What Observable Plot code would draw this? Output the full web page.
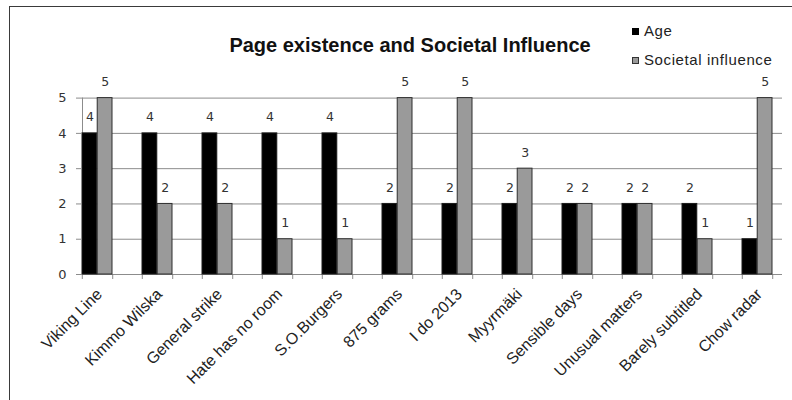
<!DOCTYPE html>
<html>
<head>
<meta charset="utf-8">
<script src="https://cdn.jsdelivr.net/npm/d3@7"></script>
<script src="https://cdn.jsdelivr.net/npm/@observablehq/plot@0.6"></script>
<style>
  html, body { margin: 0; padding: 0; background: #fff; }
  #page { position: relative; width: 792px; height: 400px; overflow: hidden; background: #fff; }
  #border { position: absolute; left: 9px; top: 6px; width: 820px; height: 440px;
            border: 1.5px solid #3a3a3a; box-sizing: border-box; }
  #chart { position: absolute; left: 0; top: 0; }
  #title { position: absolute; left: 410px; top: 35px; transform: translateX(-50%);
           font: bold 20px/20px "Liberation Sans", Arial, sans-serif; color: #111; white-space: nowrap; }
  .legend-item { position: absolute; left: 632px; font: 15px/15px "Liberation Sans", Arial, sans-serif;
                 color: #222; letter-spacing: 0.6px; white-space: nowrap; }
  .swatch { display: inline-block; width: 7px; height: 7px; margin-right: 5px; vertical-align: 1px;
            box-sizing: border-box; }
</style>
</head>
<body>
<div id="page">
  <div id="border"></div>
  <div id="chart"></div>
  <div id="title">Page existence and Societal Influence</div>
  <div id="legend"></div>
</div>
<script>
// Pages and their scores
const categories = ["Viking Line", "Kimmo Wilska", "General strike", "Hate has no room", "S.O.Burgers",
  "875 grams", "I do 2013", "Myyrmäki", "Sensible days", "Unusual matters", "Barely subtitled", "Chow radar"];
const ageValues = [4, 4, 4, 4, 4, 2, 2, 2, 2, 2, 2, 1];
const influenceValues = [5, 2, 2, 1, 1, 5, 5, 3, 2, 2, 1, 5];
const seriesNames = ["Age", "Societal influence"];
const yTicks = [0, 1, 2, 3, 4, 5];

const rows = categories.map((category, i) => ({category, age: ageValues[i], influence: influenceValues[i]}));

const width = 792, height = 400;
const marginLeft = 82, marginRight = 10, marginTop = 97.6, marginBottom = 126;
// band geometry: each category band holds the two bars, with an equal gap after it
const paddingInner = 0.5;
const step = (width - marginLeft - marginRight) / (categories.length - paddingInner);
const barWidth = step * (1 - paddingInner) / 2;

const gridColor = "#8c8c8c";
const ageFill = "#000000";
const influenceFill = "#9a9a9a";

const chart = Plot.plot({
  width, height, marginLeft, marginRight, marginTop, marginBottom,
  style: {background: "transparent", overflow: "visible"},
  x: {type: "band", domain: categories, paddingInner, paddingOuter: 0, align: 0},
  y: {domain: [0, 5]},
  marks: [
    Plot.ruleY(yTicks, {stroke: gridColor, strokeWidth: 1}),
    Plot.frame({anchor: "left", stroke: gridColor}),
    // slot boundaries along the category axis
    Plot.ruleX(rows, {x: "category", y1: d => 0, y2: d => 0, insetBottom: -5, dx: -barWidth, stroke: gridColor}),
    Plot.ruleX(rows, {x: "category", y1: d => 0, y2: d => 0, insetBottom: -5, dx: barWidth, stroke: gridColor}),
    Plot.barY(rows, {x: "category", y: "age", fill: ageFill, stroke: "#1a1a1a", strokeWidth: 1,
      insetRight: barWidth}),
    Plot.barY(rows, {x: "category", y: "influence", fill: influenceFill, stroke: "#2e2e2e", strokeWidth: 1,
      insetLeft: barWidth}),
    Plot.text(rows, {x: "category", y: "age", text: "age", dx: -barWidth / 2, dy: -16,
      fontSize: 12.5, fontFamily: "DejaVu Sans", fill: "#333"}),
    Plot.text(rows, {x: "category", y: "influence", text: "influence", dx: barWidth / 2, dy: -16,
      fontSize: 12.5, fontFamily: "DejaVu Sans", fill: "#333"}),
    Plot.axisY({ticks: yTicks, tickSize: 6, tickPadding: 10, stroke: gridColor, label: null,
      fontSize: 13, fontFamily: "DejaVu Sans", fill: "#333", tickFormat: d => String(d)}),
    Plot.axisX({tickSize: 0, tickRotate: -45, tickPadding: 17, label: null, dx: 2,
      fontSize: 16, fontFamily: "Liberation Sans", fill: "#222"})
  ]
});
document.getElementById("chart").append(chart);

// legend
const legend = document.getElementById("legend");
const legendTops = [23, 52];
const swatchStyles = [
  `background:${ageFill};`,
  `background:${influenceFill};border:1px solid #333;`
];
seriesNames.forEach((name, i) => {
  const item = document.createElement("div");
  item.className = "legend-item";
  item.style.top = legendTops[i] + "px";
  const sw = document.createElement("span");
  sw.className = "swatch";
  sw.style.cssText = swatchStyles[i];
  item.append(sw, document.createTextNode(name));
  legend.append(item);
});
</script>
</body>
</html>
